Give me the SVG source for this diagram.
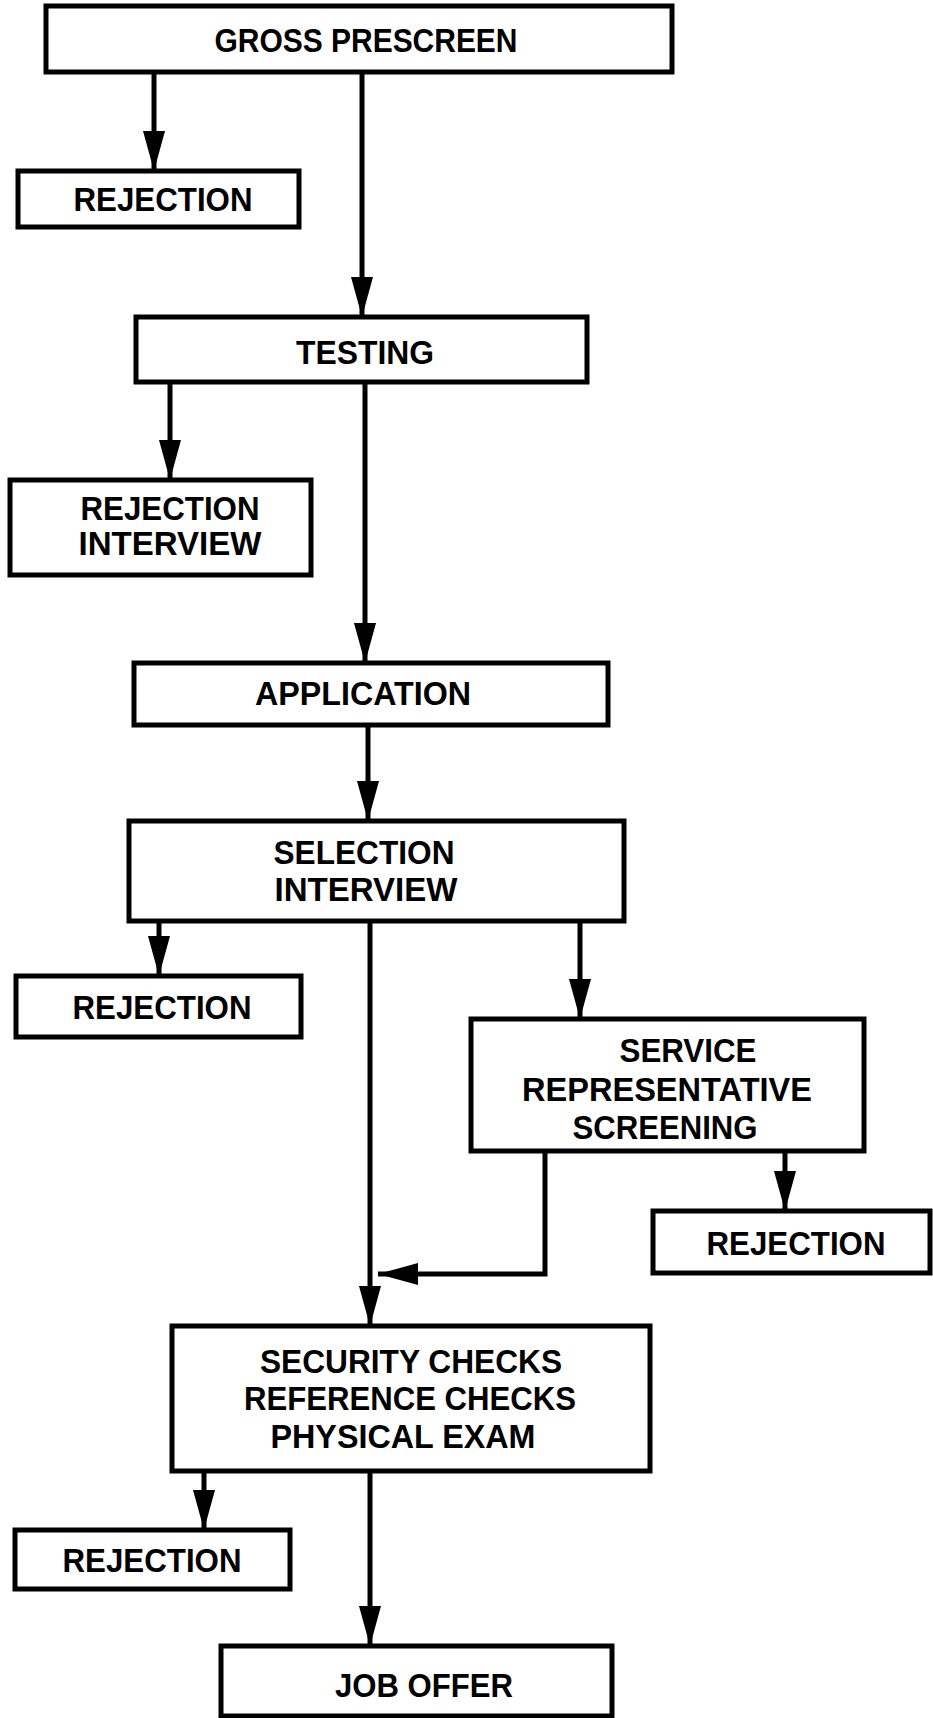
<svg xmlns="http://www.w3.org/2000/svg" width="933" height="1718" viewBox="0 0 933 1718">
<style>
.box{fill:#fff;stroke:#000;stroke-width:5}
.ln{fill:none;stroke:#000;stroke-width:5}
.t{font-family:"Liberation Sans",Arial,sans-serif;font-weight:bold;font-size:33px;fill:#000;text-anchor:middle}
</style>
<defs>
<marker id="ah" markerUnits="userSpaceOnUse" markerWidth="40" markerHeight="22" refX="40" refY="11" orient="auto">
<path d="M0,0 L40,11 L0,22 z" fill="#000"/>
</marker>
</defs>
<rect width="933" height="1718" fill="#fff"/>
<g id="connectors">
<line class="ln" x1="154" y1="72" x2="154" y2="171" marker-end="url(#ah)"/>
<line class="ln" x1="362" y1="72" x2="362" y2="317" marker-end="url(#ah)"/>
<line class="ln" x1="170" y1="382" x2="170" y2="480" marker-end="url(#ah)"/>
<line class="ln" x1="365" y1="382" x2="365" y2="663" marker-end="url(#ah)"/>
<line class="ln" x1="368" y1="725" x2="368" y2="821" marker-end="url(#ah)"/>
<line class="ln" x1="159" y1="921" x2="159" y2="976" marker-end="url(#ah)"/>
<line class="ln" x1="580" y1="921" x2="580" y2="1019" marker-end="url(#ah)"/>
<line class="ln" x1="370" y1="921" x2="370" y2="1326" marker-end="url(#ah)"/>
<line class="ln" x1="785" y1="1151" x2="785" y2="1211" marker-end="url(#ah)"/>
<polyline class="ln" points="545,1151 545,1274 378,1274" marker-end="url(#ah)"/>
<line class="ln" x1="204" y1="1471" x2="204" y2="1530" marker-end="url(#ah)"/>
<line class="ln" x1="370" y1="1471" x2="370" y2="1646" marker-end="url(#ah)"/>
</g>
<g id="gross-prescreen">
<rect class="box" x="46" y="6" width="626" height="66"/>
<text class="t" x="366" y="52" textLength="303" lengthAdjust="spacingAndGlyphs">GROSS PRESCREEN</text>
</g>
<g id="rejection-1">
<rect class="box" x="18" y="171" width="281" height="56"/>
<text class="t" x="163" y="211" textLength="179" lengthAdjust="spacingAndGlyphs">REJECTION</text>
</g>
<g id="testing">
<rect class="box" x="136" y="317" width="451" height="65"/>
<text class="t" x="365" y="364" textLength="138" lengthAdjust="spacingAndGlyphs">TESTING</text>
</g>
<g id="rejection-interview">
<rect class="box" x="10" y="480" width="301" height="95"/>
<text class="t" x="170" y="520" textLength="179" lengthAdjust="spacingAndGlyphs">REJECTION</text>
<text class="t" x="170" y="555" textLength="183" lengthAdjust="spacingAndGlyphs">INTERVIEW</text>
</g>
<g id="application">
<rect class="box" x="134" y="663" width="474" height="62"/>
<text class="t" x="363" y="705" textLength="216" lengthAdjust="spacingAndGlyphs">APPLICATION</text>
</g>
<g id="selection-interview">
<rect class="box" x="129" y="821" width="495" height="100"/>
<text class="t" x="364" y="864" textLength="181" lengthAdjust="spacingAndGlyphs">SELECTION</text>
<text class="t" x="366" y="901" textLength="183" lengthAdjust="spacingAndGlyphs">INTERVIEW</text>
</g>
<g id="rejection-2">
<rect class="box" x="16" y="976" width="285" height="61"/>
<text class="t" x="162" y="1019" textLength="179" lengthAdjust="spacingAndGlyphs">REJECTION</text>
</g>
<g id="service-representative-screening">
<rect class="box" x="471" y="1019" width="393" height="132"/>
<text class="t" x="688" y="1062" textLength="137" lengthAdjust="spacingAndGlyphs">SERVICE</text>
<text class="t" x="667" y="1101" textLength="290" lengthAdjust="spacingAndGlyphs">REPRESENTATIVE</text>
<text class="t" x="665" y="1139" textLength="185" lengthAdjust="spacingAndGlyphs">SCREENING</text>
</g>
<g id="rejection-3">
<rect class="box" x="653" y="1211" width="277" height="62"/>
<text class="t" x="796" y="1255" textLength="179" lengthAdjust="spacingAndGlyphs">REJECTION</text>
</g>
<g id="security-checks">
<rect class="box" x="172" y="1326" width="478" height="145"/>
<text class="t" x="411" y="1373" textLength="302" lengthAdjust="spacingAndGlyphs">SECURITY CHECKS</text>
<text class="t" x="410" y="1410" textLength="332" lengthAdjust="spacingAndGlyphs">REFERENCE CHECKS</text>
<text class="t" x="403" y="1448" textLength="265" lengthAdjust="spacingAndGlyphs">PHYSICAL EXAM</text>
</g>
<g id="rejection-4">
<rect class="box" x="15" y="1530" width="275" height="59"/>
<text class="t" x="152" y="1572" textLength="179" lengthAdjust="spacingAndGlyphs">REJECTION</text>
</g>
<g id="job-offer">
<rect class="box" x="221" y="1646" width="391" height="70"/>
<text class="t" x="424" y="1697" textLength="178" lengthAdjust="spacingAndGlyphs">JOB OFFER</text>
</g>
</svg>
